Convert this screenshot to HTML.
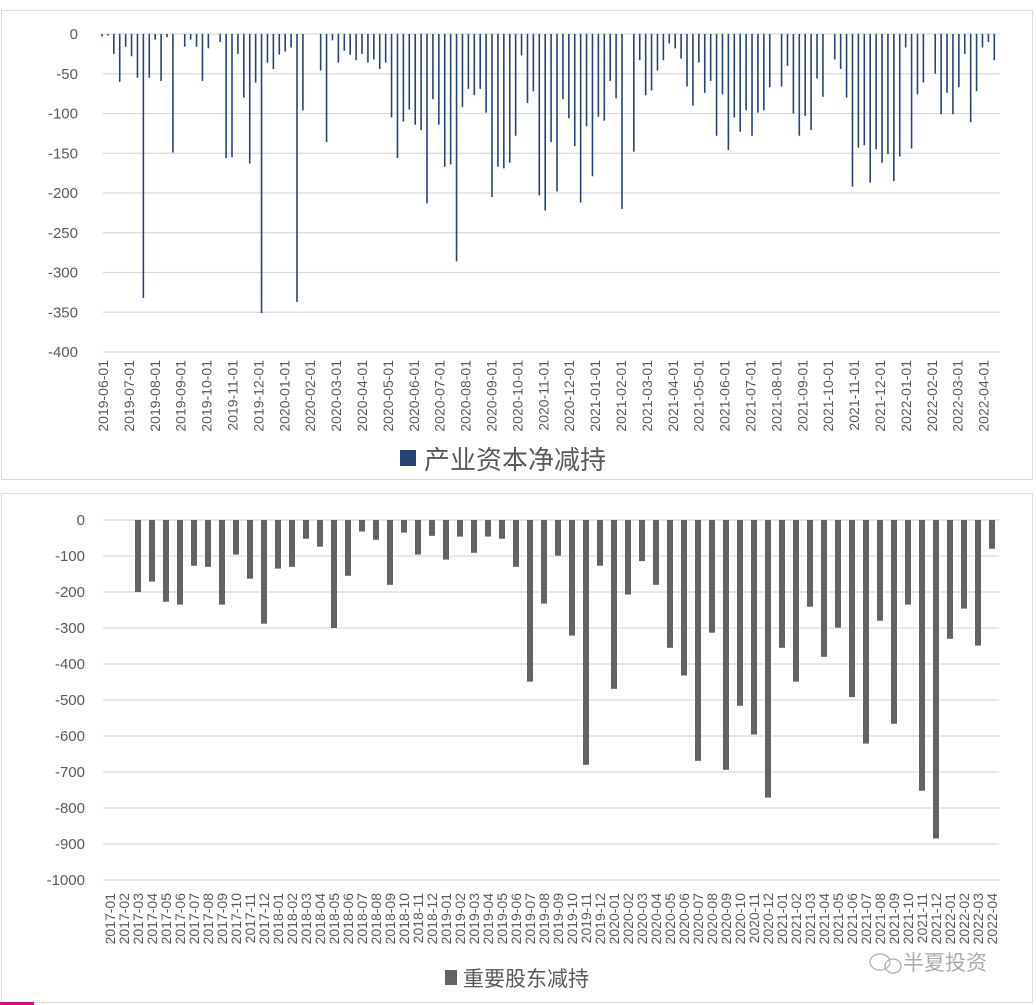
<!DOCTYPE html>
<html><head><meta charset="utf-8">
<style>
body{margin:0;background:#fff;width:1036px;height:1005px;overflow:hidden;font-family:"Liberation Sans","Noto Sans CJK SC",sans-serif;}
svg{display:block}
</style></head>
<body>
<svg id="s" width="1036" height="1005">
<rect x="0" y="0" width="1036" height="1005" fill="#fff"/>
<rect x="1.5" y="10.5" width="1031" height="469" fill="none" stroke="#d9d9d9"/>
<rect x="1.5" y="493.5" width="1031" height="509" fill="none" stroke="#d9d9d9"/>
<rect x="0" y="1002" width="34" height="3" fill="#e6007e"/>
<g id="top"></g><g id="bot"></g>
<rect x="400" y="450" width="16" height="16" fill="#264478"/>
<text x="424" y="469" font-size="26" fill="#595959">产业资本净减持</text>
<rect x="445" y="970" width="12" height="15" fill="#636363"/>
<text x="463" y="986" font-size="21" fill="#595959">重要股东减持</text>
<g opacity="0.7">
<ellipse cx="880" cy="962" rx="10" ry="8" fill="none" stroke="#888" stroke-width="1.2"/>
<ellipse cx="893" cy="966" rx="8" ry="7" fill="none" stroke="#888" stroke-width="1.2"/>
<text x="903" y="970" font-size="21" fill="#888">半夏投资</text>
</g>
</svg>
<script>
const NS='http://www.w3.org/2000/svg';
const topValues=[-3,-2,-25,-60,-16,-28,-55,-332,-55,-7,-59,-4,-149,0,-16,-7,-16,-59,-18,0,-10,-156,-155,-25,-80,-163,-61,-351,-36,-44,-26,-22,-17,-337,-96,0,0,-46,-136,-8,-36,-21,-26,-33,-25,-36,-32,-44,-36,-105,-156,
-110,-95,-114,-121,-213,-82,-114,-167,-164,-286,-92,-69,-77,-69,-99,-205,-167,-169,-162,-128,-27,-87,-72,-203,-222,-136,-198,-82,-106,-141,-212,-116,-179,-104,-109,-59,-81,-220,0,-148,-33,-77,-71,-46,-33,-12,-18,-31,-66,-90,-36,
-74,-59,-128,-76,-146,-105,-123,-96,-128,-99,-96,-67,0,-66,-40,-100,-128,-103,-121,-56,-79,0,-32,-44,-80,-192,-143,-140,-187,-145,-162,-151,-185,-154,-17,-144,-76,-61,0,-50,-101,-74,-101,-67,-25,-111,-72,-17,-10,-33];
const topYTicks=[0,-50,-100,-150,-200,-250,-300,-350,-400];
const topMonths=[];
for(let y=2019,m=6;!(y===2022&&m>4);m++){if(m>12){m=1;y++;}if(y===2022&&m>4)break;topMonths.push(y+'-'+String(m).padStart(2,'0')+'-01');}
const botValues=[0,0,-200,-171,-227,-235,-127,-130,-235,-96,-163,-288,-135,-130,-52,-74,-300,-155,-32,-55,-180,-35,-96,-44,-110,-46,-91,-46,-52,-130,-449,-232,
-99,-321,-680,-127,-469,-207,-114,-180,-355,-432,-669,-313,-694,-516,-596,-771,-355,-449,-241,-380,-299,-492,-621,-280,-566,-235,-752,-885,-330,-246,-349,-80];
const botYTicks=[0,-100,-200,-300,-400,-500,-600,-700,-800,-900,-1000];
const botCats=[];
for(let y=2017,m=1;botCats.length<64;m++){if(m>12){m=1;y++;}botCats.push(y+'-'+String(m).padStart(2,'0'));}

function mk(tag,attrs,parent){const e=document.createElementNS(NS,tag);for(const k in attrs)e.setAttribute(k,attrs[k]);parent.appendChild(e);return e;}

const T=document.getElementById('top');
const tY=v=>34+(v/-400)*318;
const tX0=103,tX1=1000;
topYTicks.forEach(v=>{
 const l=mk('line',{x1:tX0,x2:tX1,y1:tY(v),y2:tY(v),stroke:'#d9d9d9','stroke-width':1.2},T);
 
 
 const t=mk('text',{x:78,y:tY(v)+5,'text-anchor':'end','font-size':15,fill:'#595959'},T);
 t.textContent=v;
 
 
});
const tbx=i=>102+i*(892.3/(topValues.length-1));
topValues.forEach((v,i)=>{
 if(v===0)return;
 const r=mk('rect',{x:tbx(i)-0.8,y:tY(0),width:1.6,height:tY(v)-tY(0),fill:'#264478'},T);
 
 
});
const mStep=(983.6-103)/(topMonths.length-1);
topMonths.forEach((s,i)=>{
 const x=103+i*mStep;
 const t=mk('text',{x:0,y:0,transform:`translate(${x+5},360) rotate(-90)`,'text-anchor':'end','font-size':14,fill:'#595959'},T);
 t.textContent=s;
 
 
});

const B=document.getElementById('bot');
const bY=v=>520+(v/-1000)*360;
const bX0=103,bX1=999,bw=(bX1-bX0)/botCats.length;
botYTicks.forEach(v=>{
 const l=mk('line',{x1:bX0,x2:bX1,y1:bY(v),y2:bY(v),stroke:'#d9d9d9','stroke-width':1.2},B);
 
 
 const t=mk('text',{x:85,y:bY(v)+5,'text-anchor':'end','font-size':15,fill:'#595959'},B);
 t.textContent=v;
 
 
});
botValues.forEach((v,i)=>{
 if(v===0)return;
 const cx=bX0+(i+0.5)*bw;
 const r=mk('rect',{x:cx-3,y:bY(0),width:6,height:bY(v)-bY(0),fill:'#636363'},B);
 
 
});
botCats.forEach((s,i)=>{
 const cx=bX0+(i+0.5)*bw;
 const t=mk('text',{x:0,y:0,transform:`translate(${cx+5},893) rotate(-90)`,'text-anchor':'end','font-size':14,fill:'#595959'},B);
 t.textContent=s;
 
 
});
</script>
</body></html>
